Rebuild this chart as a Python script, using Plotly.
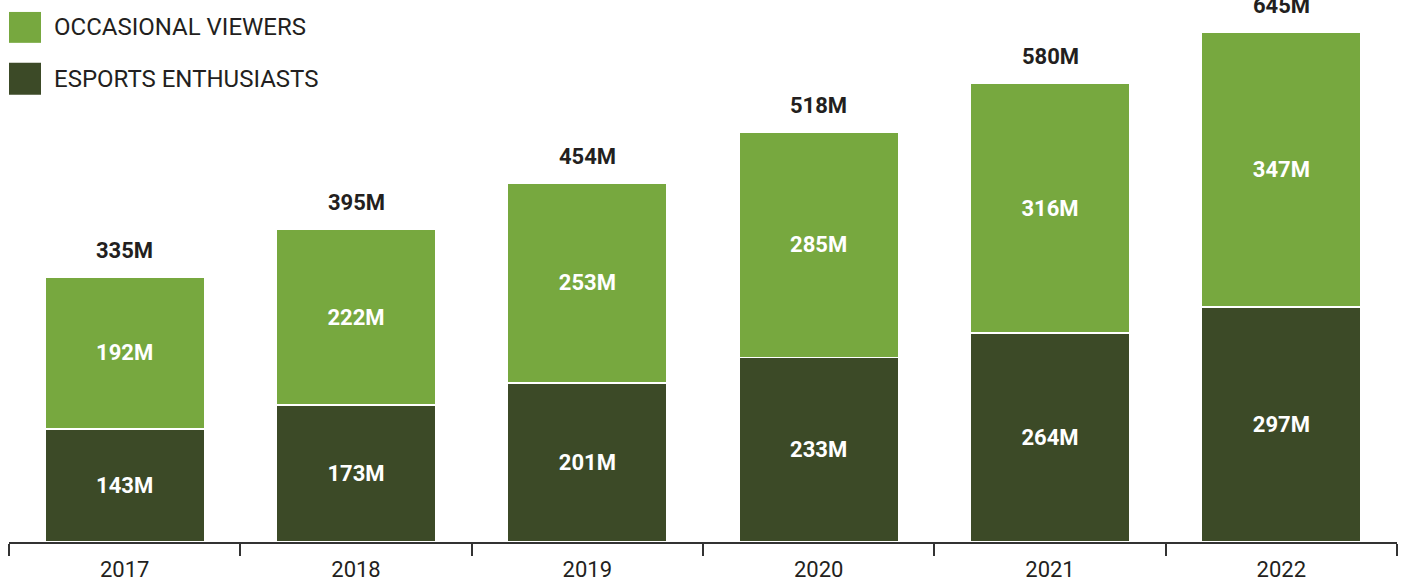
import plotly.graph_objects as go

years = ["2017", "2018", "2019", "2020", "2021", "2022"]
enthusiasts = [143, 173, 201, 233, 264, 297]
occasional = [192, 222, 253, 285, 316, 347]
totals = [335, 395, 454, 518, 580, 645]

LIGHT = "#77a83f"
DARK = "#3c4a27"
TXT = "#231f20"
FONT = "Roboto"

fig = go.Figure()
fig.add_trace(go.Bar(
    x=years, y=enthusiasts, name="ESPORTS ENTHUSIASTS",
    marker=dict(color=DARK, line=dict(color="white", width=1.5)),
    text=[f"{v}M" for v in enthusiasts], textposition="inside",
    insidetextanchor="middle",
    textfont=dict(family=FONT, size=22, color="white", weight="bold"),
))
fig.add_trace(go.Bar(
    x=years, y=occasional, name="OCCASIONAL VIEWERS",
    marker=dict(color=LIGHT, line=dict(color="white", width=1.5)),
    text=[f"{v}M" for v in occasional], textposition="inside",
    insidetextanchor="middle",
    textfont=dict(family=FONT, size=22, color="white", weight="bold"),
))

for i, t in enumerate(totals):
    fig.add_annotation(x=i, y=t, text=f"{t}M", showarrow=False,
                       yanchor="bottom", yshift=12,
                       font=dict(family=FONT, size=22, color=TXT, weight="bold"))

# legend (paper coordinates)
W, H = 1405, 582
legend_items = [("OCCASIONAL VIEWERS", LIGHT, 12, 43), ("ESPORTS ENTHUSIASTS", DARK, 63, 95)]
for label, col, y0, y1 in legend_items:
    fig.add_shape(type="rect", xref="paper", yref="paper",
                  x0=0.0, x1=(41 - 9) / (1397 - 9),
                  y0=(544 - y1) / 544, y1=(544 - y0) / 544,
                  fillcolor=col, line=dict(width=0), layer="above")
    fig.add_annotation(xref="paper", yref="paper", x=(52 - 9) / (1397 - 9),
                       y=(544 - (y0 + y1) / 2) / 544, text=label, showarrow=False,
                       xanchor="left", yanchor="middle",
                       font=dict(family=FONT, size=24, color=TXT))

fig.update_layout(
    barmode="stack", bargap=0.31,
    width=W, height=H,
    margin=dict(l=9, r=8, t=0, b=38),
    plot_bgcolor="white", paper_bgcolor="white",
    showlegend=False,
)
fig.update_xaxes(type="category", tickson="boundaries", ticks="outside", ticklen=12,
                 tickcolor="#333333", tickwidth=1.5,
                 showline=True, linecolor="#333333", linewidth=1.5,
                 tickfont=dict(family=FONT, size=22, color=TXT),
                 ticklabelstandoff=7,
                 showgrid=False, range=[-0.5, 5.5])
fig.update_yaxes(range=[0, 685], visible=False, showgrid=False)

fig.write_html("out.html", config={"displayModeBar": False},
               post_script="document.body.style.margin='0';")
